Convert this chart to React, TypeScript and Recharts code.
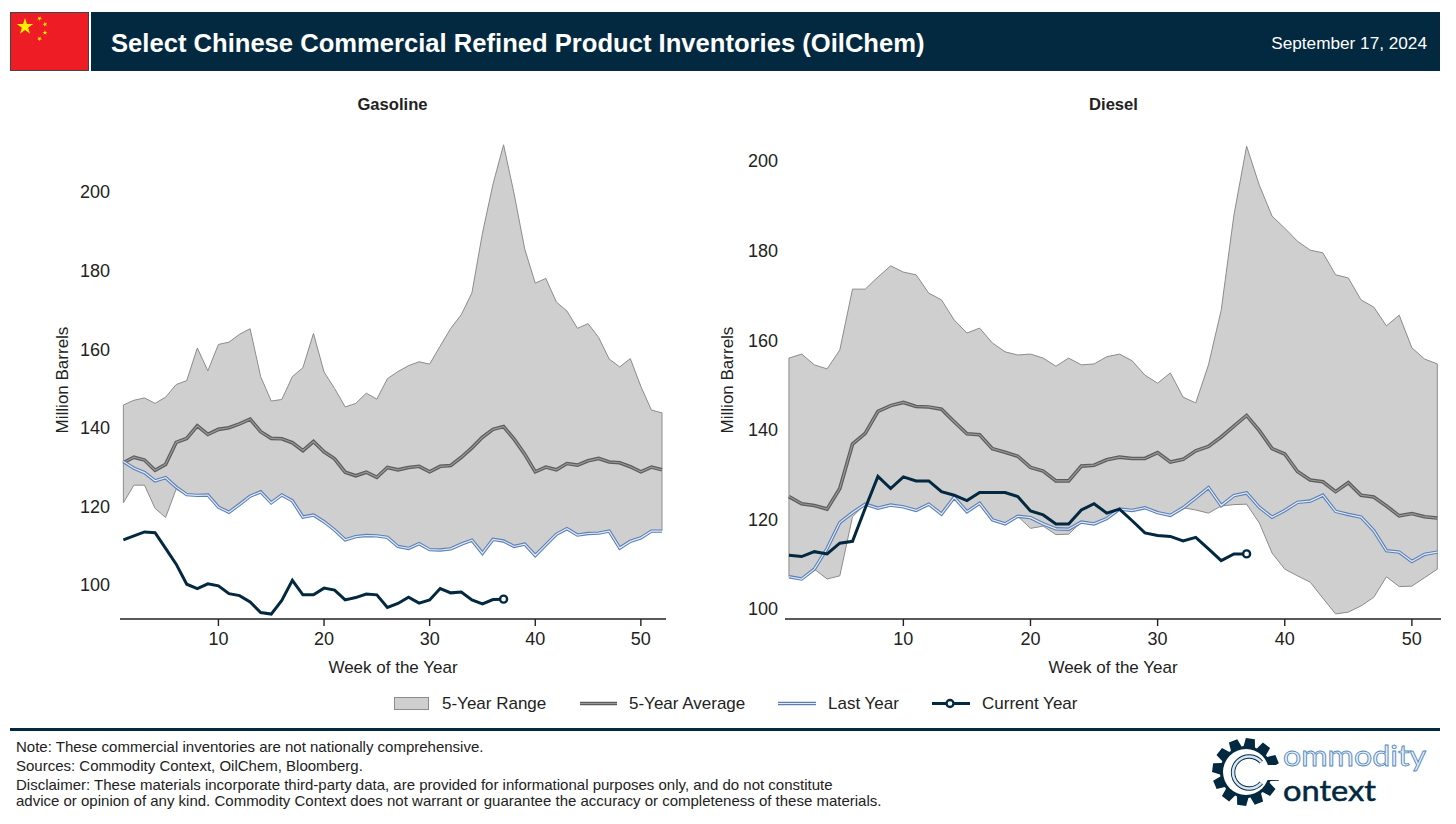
import { Area, ComposedChart, Line, ReferenceLine, XAxis, YAxis } from "recharts";

const weeks = Array.from({ length: 52 }, (_, i) => i + 1);
const xTicks = [10, 20, 30, 40, 50];

const gasolineTicks = [100, 120, 140, 160, 180, 200];
const gasolineHigh = [
  145.8, 147, 147.6, 146.2, 147.8, 151, 152, 160.3, 154.5, 161.2, 161.8, 163.8, 165.2,
  153, 146.8, 147.2, 153, 155.3, 164, 154.2, 150, 145.3, 146.2, 148.8, 147.3, 152.5,
  154.3, 155.8, 156.8, 156.2, 160.8, 165.3, 168.8, 174.3, 189.5, 202, 212, 199.5, 185.5,
  176.8, 178, 172, 169.7, 165.3, 166.5, 163, 157.5, 155.5, 157.6, 150.5, 144.5, 143.8,
];
const gasolineLow = [
  120.9, 125.4, 125.4, 119.5, 117.2, 124.4, 123, 122.8, 122.9, 119.8, 118.5, 120.5, 122.6,
  123.7, 120.9, 122.9, 121.4, 117.3, 117.8, 116.1, 114, 111.5, 112.3, 112.6, 112.5, 112.1,
  109.8, 109.3, 110.5, 109, 108.9, 109.2, 110.4, 111.4, 108.1, 111.6, 111.2, 109.8, 110.4,
  107.5, 110.2, 112.9, 114.3, 112.7, 113.1, 113.2, 113.7, 109.4, 111.1, 112, 113.7, 113.7,
];
const gasolineAverage = [
  131.1, 132.5, 131.8, 129.2, 130.7, 136.3, 137.3, 140.5, 138.3, 139.6, 140, 141, 142.2,
  139, 137.3, 137.2, 136.2, 134.2, 136.5, 133.9, 132.1, 128.7, 127.8, 128.7, 127.4, 129.9,
  129.3, 129.9, 130.2, 128.8, 130.2, 130.4, 132.5, 134.9, 137.6, 139.6, 140.3, 137.1, 133.3,
  128.8, 130, 129.3, 130.9, 130.5, 131.6, 132.2, 131.3, 131.1, 130.1, 128.8, 130, 129.3,
];
const gasolineLastYear = [
  131.4, 129.7, 128.6, 126.5, 127.3, 124.9, 123, 122.8, 122.9, 119.8, 118.5, 120.5, 122.6,
  123.7, 120.9, 122.9, 121.4, 117.3, 117.8, 116.1, 114, 111.5, 112.3, 112.6, 112.5, 112.1,
  109.8, 109.3, 110.5, 109, 108.9, 109.2, 110.4, 111.4, 108.1, 111.6, 111.2, 109.8, 110.4,
  107.5, 110.2, 112.9, 114.3, 112.7, 113.1, 113.2, 113.7, 109.4, 111.1, 112, 113.7, 113.7,
];
const gasolineCurrent = [
  111.5, 112.5, 113.5, 113.3, 109.3, 105.3, 100.2, 99.1, 100.3, 99.8, 97.8, 97.3, 95.7,
  93, 92.6, 96.1, 101.2, 97.5, 97.5, 99.2, 98.7, 96.2, 96.8, 97.7, 97.5, 94.3,
  95.3, 96.9, 95.4, 96.2, 99.1, 98, 98.2, 96.2, 95.2, 96.3, 96.4,
];

const dieselTicks = [100, 120, 140, 160, 180, 200];
const dieselHigh = [
  156, 156.9, 154.5, 153.6, 157.8, 171.4, 171.4, 174.1, 176.6, 175.2, 174.6, 170.5, 169,
  164.5, 161.6, 162.7, 159.4, 157.4, 156.7, 156.9, 156, 154.2, 156, 154.5, 154.7, 156.3,
  156.9, 155.4, 152.2, 150.4, 152.7, 147.3, 146, 154.5, 166.7, 187.9, 203.3, 194.6, 187.7,
  185, 182.1, 180.1, 179.5, 174.6, 173.9, 169, 167.4, 163.2, 165.6, 158.3, 155.8, 154.7,
];
const dieselLow = [
  107.2, 106.7, 108.9, 106.7, 107.4, 120.6, 123.4, 122.5, 123.2, 122.8, 122, 123.4, 121.2,
  124.9, 121.7, 123.6, 119.9, 119, 120.7, 118, 118.5, 116.6, 116.7, 119.4, 119, 120.2,
  122.3, 122, 122.6, 121.5, 120.9, 122.6, 122.1, 121.4, 123, 123.3, 123.4, 119.2, 112.5,
  108.9, 107.4, 106, 102.4, 98.9, 99.3, 100.7, 102.6, 107.2, 105, 105.1, 107, 108.9,
];
const dieselAverage = [
  125.1, 123.5, 123.1, 122.3, 126.9, 136.8, 139.2, 144.1, 145.4, 146.1, 145.2, 145.1, 144.6,
  141.8, 139.1, 138.9, 135.8, 135, 134.1, 131.6, 130.8, 128.6, 128.6, 131.9, 132.1, 133.3,
  133.9, 133.6, 133.6, 134.9, 132.8, 133.4, 135.3, 136.3, 138.4, 140.8, 143.2, 139.8, 135.8,
  134.6, 130.7, 128.8, 128.4, 126.2, 128.2, 125.4, 125, 123, 120.8, 121.3, 120.6, 120.3,
];
const dieselLastYear = [
  107.2, 106.7, 108.9, 113.5, 119.3, 121.5, 123.4, 122.5, 123.2, 122.8, 122, 123.4, 121.2,
  124.9, 121.7, 123.6, 119.9, 119, 120.7, 120.4, 119, 117.9, 117.8, 119.4, 119, 120.2,
  122.3, 122, 122.6, 121.5, 120.9, 122.6, 124.8, 127.1, 123.1, 125.3, 125.9, 122.7, 120.5,
  122, 123.8, 124.1, 125.4, 121.8, 121.1, 120.5, 117.5, 113, 112.7, 110.6, 112.2, 112.7,
];
const dieselCurrent = [
  112, 111.7, 112.8, 112.3, 114.7, 115.1, 122.5, 129.6, 126.9, 129.5, 128.6, 128.6, 126.2,
  125.4, 124.2, 126, 126, 126, 125.1, 121.9, 121, 119, 119, 122.1, 123.5, 121.4,
  122.3, 119.7, 117, 116.4, 116.2, 115.2, 116, 113.4, 110.8, 112.3, 112.3,
];

const navy = "#02293f";
const textColor = "#222";
const font = "'Liberation Sans', Arial, sans-serif";

const buildRows = (
  low: number[],
  high: number[],
  average: number[],
  lastYear: number[],
  current: number[],
) =>
  weeks.map((week, i) => ({
    week,
    range: [low[i], high[i]],
    average: average[i],
    lastYear: lastYear[i],
    current: current[i] ?? null,
  }));

type InventoryChartProps = {
  left: number;
  width: number;
  axisWidth: number;
  marginRight: number;
  tickGap: number;
  xDomain: [number, number];
  yDomain: [number, number];
  yTicks: number[];
  low: number[];
  high: number[];
  average: number[];
  lastYear: number[];
  current: number[];
};

function InventoryChart(props: InventoryChartProps) {
  const { low, high, average, lastYear, current } = props;
  const rows = buildRows(low, high, average, lastYear, current);
  const lastIndex = current.length - 1;

  const endDot = (dot: any) => {
    if (dot.index !== lastIndex) return <g key={dot.index} />;
    return (
      <circle key={dot.index} cx={dot.cx} cy={dot.cy} r={3.5} fill="#fff" stroke={navy} strokeWidth={2.4} />
    );
  };

  return (
    <div style={{ position: "absolute", left: props.left, top: 120 }}>
      <ComposedChart
        width={props.width}
        height={570}
        data={rows}
        margin={{ top: 13, right: props.marginRight, bottom: 0, left: 0 }}
      >
        <XAxis
          dataKey="week"
          type="number"
          domain={props.xDomain}
          ticks={xTicks}
          allowDataOverflow
          height={71}
          tickSize={7}
          tickMargin={6}
          interval={0}
          stroke="#222"
          strokeWidth={1.4}
          tick={{ fill: textColor, fontSize: 18, fontFamily: font }}
          label={{ value: "Week of the Year", position: "insideBottom", offset: 17, fill: textColor, fontSize: 17, fontFamily: font }}
        />
        <YAxis
          type="number"
          width={props.axisWidth}
          domain={props.yDomain}
          ticks={props.yTicks}
          allowDataOverflow
          axisLine={false}
          tickLine={false}
          tickMargin={props.tickGap}
          interval={0}
          tick={{ fill: textColor, fontSize: 18, fontFamily: font }}
        />
        <Area
          dataKey="range"
          fill="#cfcfcf"
          fillOpacity={1}
          stroke="#8c8c8c"
          strokeWidth={1}
          dot={false}
          activeDot={false}
          isAnimationActive={false}
        />
        <ReferenceLine segment={[{ x: 1, y: low[0] }, { x: 1, y: high[0] }]} stroke="#8c8c8c" />
        <ReferenceLine segment={[{ x: 52, y: low[51] }, { x: 52, y: high[51] }]} stroke="#8c8c8c" />
        <Line dataKey="average" stroke="#5c5c5c" strokeWidth={3.6} dot={false} activeDot={false} isAnimationActive={false} />
        <Line dataKey="average" stroke="#999" strokeWidth={1.2} dot={false} activeDot={false} isAnimationActive={false} />
        <Line dataKey="lastYear" stroke="#5b7fb5" strokeWidth={3.4} dot={false} activeDot={false} isAnimationActive={false} />
        <Line dataKey="lastYear" stroke="#e2ebf7" strokeWidth={1.2} dot={false} activeDot={false} isAnimationActive={false} />
        <Line dataKey="current" stroke={navy} strokeWidth={3} dot={endDot} activeDot={false} isAnimationActive={false} />
      </ComposedChart>
    </div>
  );
}

const starPoints = (cx: number, cy: number, r: number, turn = 0) =>
  Array.from({ length: 10 }, (_, i) => {
    const radius = i % 2 === 0 ? r : r * 0.38;
    const a = -Math.PI / 2 + turn + (i * Math.PI) / 5;
    return `${cx + radius * Math.cos(a)},${cy + radius * Math.sin(a)}`;
  }).join(" ");

const gearPoints = (cx: number, cy: number, outer: number, inner: number, teeth: number) => {
  const pts: string[] = [];
  const step = (Math.PI * 2) / teeth;
  for (let i = 0; i < teeth; i++) {
    const a = i * step + 0.13;
    [[-0.5, inner], [-0.3, outer], [0.3, outer], [0.5, inner]].forEach(([k, r]) => {
      const t = a + (k as number) * step * 0.85;
      pts.push(`${cx + (r as number) * Math.cos(t)},${cy + (r as number) * Math.sin(t)}`);
    });
  }
  return pts.join(" ");
};

function Overlay() {
  return (
    <svg width={1456} height={824} style={{ position: "absolute", left: 0, top: 0 }} fontFamily={font}>
      {/* header */}
      <rect x={10.5} y={12.5} width={78} height={58} fill="#ee1c25" stroke="#444" />
      <polygon points={starPoints(25, 26.7, 8.6)} fill="#ffef00" />
      <polygon points={starPoints(39.5, 18.5, 2.6, 0.5)} fill="#ffef00" />
      <polygon points={starPoints(45, 24.2, 2.6, 0.9)} fill="#ffef00" />
      <polygon points={starPoints(45, 32.7, 2.6, 0)} fill="#ffef00" />
      <polygon points={starPoints(39.5, 38.7, 2.6, 0.5)} fill="#ffef00" />
      <rect x={91} y={12} width={1349} height={59} fill={navy} />
      <text x={111} y={52} fill="#fff" fontSize={25.6} fontWeight={700}>
        Select Chinese Commercial Refined Product Inventories (OilChem)
      </text>
      <text x={1427} y={49} fill="#fff" fontSize={17.2} textAnchor="end">
        September 17, 2024
      </text>

      {/* panel titles */}
      <text x={392.5} y={109.5} fill={textColor} fontSize={16.6} fontWeight={700} textAnchor="middle">Gasoline</text>
      <text x={1113.5} y={109.5} fill={textColor} fontSize={16.6} fontWeight={700} textAnchor="middle">Diesel</text>

      {/* y axis titles */}
      <text transform="translate(68 380) rotate(-90)" fill={textColor} fontSize={17} textAnchor="middle">Million Barrels</text>
      <text transform="translate(733 380) rotate(-90)" fill={textColor} fontSize={17} textAnchor="middle">Million Barrels</text>

      {/* legend */}
      <rect x={394.5} y={697.5} width={34} height={12} fill="#cfcfcf" stroke="#8c8c8c" />
      <text x={442} y={709} fill={textColor} fontSize={17}>5-Year Range</text>
      <line x1={580} x2={617} y1={703.5} y2={703.5} stroke="#5c5c5c" strokeWidth={3.6} />
      <line x1={580} x2={617} y1={703.5} y2={703.5} stroke="#999" strokeWidth={1.2} />
      <text x={629} y={709} fill={textColor} fontSize={17}>5-Year Average</text>
      <line x1={778} x2={816} y1={703.5} y2={703.5} stroke="#5b7fb5" strokeWidth={3.4} />
      <line x1={778} x2={816} y1={703.5} y2={703.5} stroke="#e2ebf7" strokeWidth={1.2} />
      <text x={828} y={709} fill={textColor} fontSize={17}>Last Year</text>
      <line x1={932} x2={970} y1={703.5} y2={703.5} stroke={navy} strokeWidth={3} />
      <circle cx={950} cy={703.5} r={3.5} fill="#fff" stroke={navy} strokeWidth={2.4} />
      <text x={982} y={709} fill={textColor} fontSize={17}>Current Year</text>

      {/* footer */}
      <rect x={10} y={728} width={1430} height={3} fill={navy} />
      <g fill={textColor} fontSize={15}>
        <text x={16} y={752}>Note: These commercial inventories are not nationally comprehensive.</text>
        <text x={16} y={771}>Sources: Commodity Context, OilChem, Bloomberg.</text>
        <text x={16} y={790}>Disclaimer: These materials incorporate third-party data, are provided for informational purposes only, and do not constitute</text>
        <text x={16} y={806}>advice or opinion of any kind. Commodity Context does not warrant or guarantee the accuracy or completeness of these materials.</text>
      </g>

      {/* logo */}
      <polygon points={gearPoints(1246, 772, 34, 26, 12)} fill={navy} />
      <circle cx={1246} cy={772} r={23} fill="#fff" />
      <rect x={1262} y={765} width={20} height={15} fill="#fff" />
      <path d="M1261.3 762.2 A16 16 0 1 0 1261.3 782.8" fill="none" stroke={navy} strokeWidth={4.4} />
      <path d="M1261.3 762.2 A16 16 0 1 0 1261.3 782.8" fill="none" stroke="#d6e5f6" strokeWidth={2.6} />
      <text x={1283} y={766} fontFamily="Lato, sans-serif" fontSize={28} fill="#e8f0fa" stroke="#4f86bd" strokeWidth={0.8} textLength={143} lengthAdjust="spacingAndGlyphs">ommodity</text>
      <text x={1283} y={801} fontFamily="Lato, sans-serif" fontSize={28} fill={navy} stroke={navy} strokeWidth={0.5} textLength={93} lengthAdjust="spacingAndGlyphs">ontext</text>
    </svg>
  );
}

export default function App() {
  return (
    <div style={{ position: "absolute", left: 0, top: 0, width: 1456, height: 824, background: "#fff", overflow: "hidden" }}>
      <Overlay />
      <InventoryChart
        left={0}
        width={700}
        axisWidth={120}
        marginRight={34}
        tickGap={4}
        xDomain={[0.68, 52.38]}
        yDomain={[91.35, 215]}
        yTicks={gasolineTicks}
        low={gasolineLow}
        high={gasolineHigh}
        average={gasolineAverage}
        lastYear={gasolineLastYear}
        current={gasolineCurrent}
      />
      <InventoryChart
        left={700}
        width={756}
        axisWidth={85}
        marginRight={15}
        tickGap={1}
        xDomain={[0.69, 52.29]}
        yDomain={[97.77, 206.25]}
        yTicks={dieselTicks}
        low={dieselLow}
        high={dieselHigh}
        average={dieselAverage}
        lastYear={dieselLastYear}
        current={dieselCurrent}
      />
    </div>
  );
}
